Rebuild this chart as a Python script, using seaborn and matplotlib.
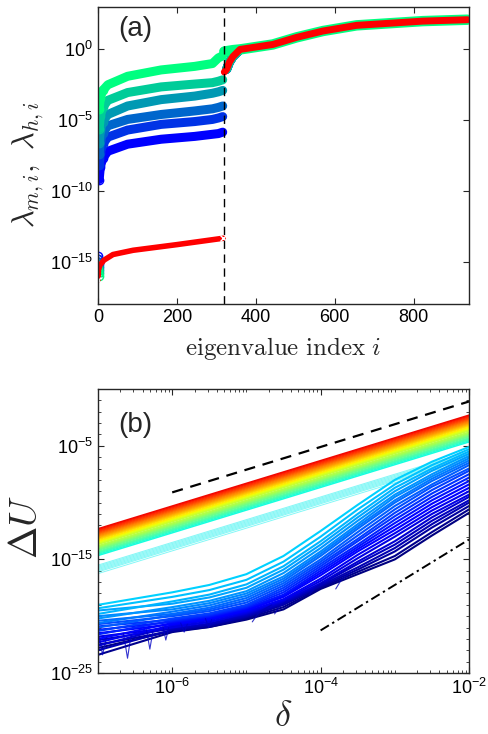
import matplotlib
matplotlib.use('Agg')
import matplotlib.pyplot as plt
import numpy as np
import seaborn as sns
from matplotlib.ticker import FixedLocator, LogLocator, FuncFormatter, NullFormatter, NullLocator

sns.set_style('ticks')
plt.rcParams['font.family'] = ['Liberation Sans', 'DejaVu Sans']
plt.rcParams['axes.edgecolor'] = '#262626'
plt.rcParams['axes.linewidth'] = 1.0

# ---------------- panel (a) data (log10 values) ----------------
a_series = ['s1', 's2', 's3', 's4', 's5', 's6']
a_colors = [(0, 0.0, 1.0), (0, 0.2, 0.9), (0, 0.4, 0.8), (0, 0.6, 0.7), (0, 0.8, 0.6), (0, 1.0, 0.5)]
a_head_idx = [0, 1, 2]
a_head_log = {
    's1': [-14.6, -14.8, -15.0],
    's2': [-14.8, -15.0, -15.2],
    's3': [-15.0, -15.2, -15.4],
    's4': [-15.2, -15.4, -15.6],
    's5': [-15.4, -15.6, -15.8],
    's6': [-15.6, -15.8, -16.0],
}
a_body_idx = [3, 6, 12, 25, 75, 160, 245, 290, 305, 316]
a_body_log = {
    's1': [-9.2, -8.3, -7.7, -7.2, -6.7, -6.35, -6.15, -6.0, -5.95, -5.85],
    's2': [-8.2, -7.3, -6.7, -6.2, -5.7, -5.3, -5.1, -4.95, -4.85, -4.75],
    's3': [-7.4, -6.5, -5.9, -5.4, -4.95, -4.6, -4.35, -4.2, -4.1, -4.0],
    's4': [-6.6, -5.7, -5.1, -4.6, -4.0, -3.55, -3.3, -3.1, -3.0, -2.9],
    's5': [-5.6, -4.7, -4.1, -3.6, -3.05, -2.65, -2.45, -2.35, -2.25, -2.15],
    's6': [-4.2, -3.4, -2.9, -2.5, -1.9, -1.45, -1.2, -1.0, -0.6, -0.45],
}
a_green_mid_idx = [320, 342]
a_green_mid_log = [-0.15, -0.05]
a_tail_idx = [326, 333, 342, 360, 443, 503, 570, 655, 739, 823, 936]
a_tail_log = [-1.4, -0.9, -0.5, 0.0, 0.35, 0.85, 1.3, 1.7, 1.85, 2.0, 2.1]

red_low_idx = [0, 1, 5, 15, 38, 89, 200, 317]
red_low_log = [-16.3, -15.6, -15.25, -14.9, -14.5, -14.2, -13.8, -13.35]
red_mid_idx = [318]
red_mid_log = [-9.0]
red_high_idx = [320, 326, 333, 342, 360, 443, 503, 570, 655, 739, 823, 936]
red_high_log = [-1.6, -1.4, -0.9, -0.5, 0.0, 0.35, 0.85, 1.3, 1.7, 1.85, 2.0, 2.1]
split_index = 319

a_xticks = [0, 200, 400, 600, 800]
a_yticks_exp = [-15, -10, -5, 0]

# ---------------- panel (b) data (log10 values) ----------------
b_ends = [1e-7, 1e-2]
upper_left_log = [-12.3, -12.38, -12.46, -12.54, -12.62, -12.7, -12.78, -12.86, -12.94, -13.02,
                  -13.1, -13.18, -13.26, -13.36, -13.44, -13.52, -13.6, -13.68, -13.8, -13.88,
                  -13.96, -14.04, -14.12, -14.2, -14.3, -14.38, -14.46, -14.56, -14.66]
upper_right_log = [-2.3, -2.38, -2.46, -2.54, -2.62, -2.7, -2.78, -2.86, -2.94, -3.02,
                   -3.1, -3.18, -3.26, -3.36, -3.44, -3.52, -3.6, -3.68, -3.8, -3.88,
                   -3.96, -4.04, -4.12, -4.2, -4.3, -4.38, -4.46, -4.56, -4.66]
pale_left_log = [-15.5, -15.6, -15.7, -15.8, -15.9, -16.0, -16.1, -16.25]
pale_right_log = [-5.5, -5.6, -5.7, -5.8, -5.9, -6.0, -6.1, -6.25]

lower_delta = [1e-7, 1e-6, 3.16e-6, 1e-5, 3.16e-5, 1e-4, 3.16e-4, 1e-3, 3.16e-3, 1e-2]
lower_log = [
    [-19.0, -17.9, -17.25, -16.3, -14.7, -12.5, -10.2, -8.0, -6.4, -5.1],
    [-19.3, -18.3, -17.7, -16.8, -15.2, -13.0, -10.6, -8.4, -6.7, -5.3],
    [-19.8, -18.7, -18.1, -17.2, -15.6, -13.4, -11.0, -8.7, -7.0, -5.5],
    [-19.5, -18.9, -18.35, -17.5, -15.9, -13.7, -11.3, -9.0, -7.2, -5.7],
    [-20.2, -19.2, -18.65, -17.8, -16.2, -14.0, -11.6, -9.3, -7.5, -5.9],
    [-20.0, -19.4, -18.85, -18.0, -16.5, -14.3, -11.9, -9.5, -7.7, -6.1],
    [-20.6, -19.6, -19.05, -18.2, -16.7, -14.5, -12.1, -9.8, -7.9, -6.3],
    [-20.4, -19.8, -19.25, -18.4, -16.9, -14.7, -12.3, -10.0, -8.1, -6.5],
    [-21.0, -19.9, -19.4, -18.6, -17.1, -15.0, -12.6, -10.3, -8.4, -6.7],
    [-20.7, -20.0, -19.55, -18.8, -17.3, -15.2, -12.9, -10.6, -8.6, -7.0],
    [-21.3, -20.2, -19.75, -19.0, -17.5, -15.4, -13.2, -10.9, -8.9, -7.2],
    [-20.9, -20.3, -19.85, -19.1, -17.7, -15.6, -13.4, -11.2, -9.2, -7.5],
    [-21.6, -20.4, -19.95, -19.2, -17.9, -15.8, -13.7, -11.5, -9.5, -7.8],
    [-21.2, -20.5, -20.05, -19.3, -18.1, -16.0, -13.9, -11.8, -9.8, -8.1],
    [-22.0, -20.6, -20.15, -19.4, -18.2, -16.2, -14.1, -12.1, -10.1, -8.4],
    [-21.5, -20.7, -20.25, -19.5, -18.3, -16.4, -14.3, -12.4, -10.4, -8.7],
    [-22.3, -20.8, -20.35, -19.6, -18.5, -16.7, -14.6, -12.7, -10.7, -9.0],
    [-21.8, -21.0, -20.5, -19.7, -18.6, -16.9, -14.9, -13.0, -11.0, -9.3],
    [-22.6, -20.9, -20.5, -19.8, -18.7, -17.1, -15.2, -13.4, -11.3, -9.5],
    [-22.1, -21.1, -20.65, -19.9, -18.8, -17.2, -15.4, -13.7, -11.6, -9.8],
    [-23.0, -21.2, -20.75, -20.0, -18.9, -17.3, -15.7, -14.0, -11.9, -10.0],
    [-22.5, -21.3, -20.85, -20.1, -19.0, -17.4, -15.9, -14.3, -12.2, -10.3],
    [-23.4, -21.4, -20.95, -20.2, -19.2, -17.5, -16.1, -14.7, -12.6, -10.6],
    [-22.8, -21.3, -20.95, -20.3, -19.4, -17.6, -16.3, -15.0, -12.9, -10.9],
]
hooks_delta = [
    [1.2e-5, 1.5e-5, 2.2e-5],
    [2.4e-5, 2.8e-5, 3.6e-5],
    [7.0e-5, 8.5e-5, 1.1e-4],
    [1.6e-4, 1.9e-4, 2.5e-4],
]
hooks_log = [
    [-20.5, -19.6, -19.0],
    [-19.8, -19.1, -18.6],
    [-18.1, -17.5, -17.0],
    [-17.6, -16.8, -16.2],
]
spikes_delta = [
    [1.05e-7, 1.15e-7, 1.3e-7],
    [2.2e-7, 2.5e-7, 2.8e-7],
    [4.5e-7, 5.0e-7, 5.5e-7],
    [7.5e-7, 8.2e-7, 9.0e-7],
    [1.3e-6, 1.45e-6, 1.6e-6],
    [2.8e-6, 3.1e-6, 3.4e-6],
]
spikes_log = [
    [-21.8, -23.4, -21.9],
    [-21.5, -23.7, -21.6],
    [-21.2, -22.9, -21.3],
    [-20.9, -22.1, -21.0],
    [-20.6, -21.4, -20.7],
    [-20.2, -21.0, -20.3],
]
dash_delta = [1e-6, 1e-2]
dash_log = [-9.1, -1.1]
dashdot_delta = [1e-4, 1e-2]
dashdot_log = [-21.25, -13.25]

b_xticks = [1e-6, 1e-4, 1e-2]
b_yticks_exp = [-25, -15, -5]


def p10(v):
    return 10.0 ** np.asarray(v, dtype=float)


def line(ax, x, y, **kw):
    sns.lineplot(x=list(x), y=list(y), ax=ax, estimator=None, sort=False, legend=False, **kw)


fig = plt.figure(figsize=(4.89, 7.34), dpi=100)
axA = fig.add_axes([0.2004, 0.5858, 0.7587, 0.4047])
axB = fig.add_axes([0.2004, 0.0831, 0.7587, 0.3869])

# ---------------- panel (a) ----------------
axA.set_yscale('log')
for name, c in zip(a_series, a_colors):
    line(axA, a_body_idx, p10(a_body_log[name]), color=c, linewidth=6.5, solid_capstyle='round')
    line(axA, a_body_idx[:3], p10(a_body_log[name][:3]), color=c, linewidth=0, marker='o',
         markersize=6, markerfacecolor='none', markeredgecolor=c, markeredgewidth=1.0)
    line(axA, a_head_idx, p10(a_head_log[name]), color=c, linewidth=0, marker='o',
         markersize=6, markerfacecolor='none', markeredgecolor=c, markeredgewidth=1.0)
    if name != 's6':
        line(axA, a_tail_idx[:4], p10(a_tail_log[:4]), color=c, linewidth=6.5, solid_capstyle='round')
# green transition + common tail
line(axA, a_green_mid_idx + a_tail_idx[3:], p10(a_green_mid_log + a_tail_log[3:]),
     color=a_colors[-1], linewidth=7.5, solid_capstyle='round')
# red crosses
line(axA, red_low_idx, p10(red_low_log), color='red', linewidth=4.0, solid_capstyle='round')
line(axA, [red_low_idx[0], red_low_idx[-1]], p10([red_low_log[0], red_low_log[-1]]), color='red',
     linewidth=0, marker='x', markersize=5, markeredgewidth=1.0)
line(axA, red_mid_idx, p10(red_mid_log), color='red', linewidth=0, marker='x', markersize=5,
     markeredgewidth=1.0)
line(axA, red_high_idx, p10(red_high_log), color='red', linewidth=5.0, solid_capstyle='round')
axA.axvline(split_index, color='black', linestyle=(0, (6, 4)), linewidth=1.0)

axA.set_xlim(0, 940)
axA.set_ylim(1e-18, 1e3)
axA.xaxis.set_major_locator(FixedLocator(a_xticks))
axA.yaxis.set_major_locator(FixedLocator([10.0 ** e for e in a_yticks_exp]))
axA.yaxis.set_minor_locator(NullLocator())
axA.xaxis.set_minor_locator(NullLocator())
fmt = FuncFormatter(lambda v, p: r'$\mathregular{10^{%d}}$' % int(round(np.log10(v))))
axA.yaxis.set_major_formatter(fmt)
axA.tick_params(which='both', direction='in', top=True, right=True, labelsize=13, length=4, width=0.8,
                colors='#262626', labelcolor='black')
axA.set_xlabel(r'$\mathrm{eigenvalue\ index}\ i$', fontsize=18, math_fontfamily='cm')
axA.set_ylabel(r'$\lambda_{m,i},\ \lambda_{h,i}$', fontsize=22, math_fontfamily='cm')
axA.xaxis.set_label_coords(0.5, -0.105)
axA.yaxis.set_label_coords(-0.14, 0.47)
axA.text(0.1, 0.925, '(a)', transform=axA.transAxes, fontsize=20, ha='center', va='center')

# ---------------- panel (b) ----------------
axB.set_xscale('log')
axB.set_yscale('log')
jet = plt.get_cmap('jet')
for k, (l, r) in enumerate(zip(pale_left_log, pale_right_log)):
    line(axB, b_ends, p10([l, r]), color=jet(0.36), alpha=0.5, linewidth=0.7)
n_up = len(upper_left_log)
for k in range(n_up - 1, -1, -1):
    t = 0.375 + (0.9 - 0.375) * (n_up - 1 - k) / (n_up - 1)
    line(axB, b_ends, p10([upper_left_log[k], upper_right_log[k]]), color=jet(t), linewidth=1.1)
n_lo = len(lower_log)
for k in range(n_lo - 1, -1, -1):
    t = 0.33 * (n_lo - 1 - k) / (n_lo - 1)
    line(axB, lower_delta, p10(lower_log[k]), color=jet(t), linewidth=1.5)
for hx, hy in zip(hooks_delta, hooks_log):
    line(axB, hx, p10(hy), color=jet(0.05), linewidth=0.8, alpha=0.8)
for sx, sy in zip(spikes_delta, spikes_log):
    line(axB, sx, p10(sy), color=jet(0.06), linewidth=0.8, alpha=0.8)
line(axB, dash_delta, p10(dash_log), color='black', linewidth=1.6, linestyle=(0, (5, 3.5)))
line(axB, dashdot_delta, p10(dashdot_log), color='black', linewidth=1.4, linestyle=(0, (5, 2, 1.2, 2)))

axB.set_xlim(1e-7, 1e-2)
axB.set_ylim(1e-25, 1e0)
axB.xaxis.set_major_locator(FixedLocator(b_xticks))
axB.xaxis.set_minor_locator(LogLocator(base=10, subs=tuple(range(1, 10)), numticks=50))
axB.xaxis.set_minor_formatter(NullFormatter())
axB.yaxis.set_major_locator(FixedLocator([10.0 ** e for e in b_yticks_exp]))
axB.yaxis.set_minor_locator(FixedLocator([10.0 ** e for e in range(-25, 1)]))
axB.yaxis.set_minor_formatter(NullFormatter())
axB.xaxis.set_major_formatter(fmt)
axB.yaxis.set_major_formatter(fmt)
axB.tick_params(which='major', direction='in', top=True, right=True, labelsize=13, length=4, width=0.8,
                colors='#262626', labelcolor='black')
axB.tick_params(which='minor', direction='in', top=True, right=True, length=2.5, width=0.6, colors='#262626')
axB.set_xlabel(r'$\delta$', fontsize=26, math_fontfamily='cm')
axB.set_ylabel(r'$\Delta U$', fontsize=28, math_fontfamily='cm')
axB.xaxis.set_label_coords(0.5, -0.09)
axB.yaxis.set_label_coords(-0.143, 0.515)
axB.text(0.1, 0.873, '(b)', transform=axB.transAxes, fontsize=20, ha='center', va='center')

fig.savefig('out.png', dpi=100)
